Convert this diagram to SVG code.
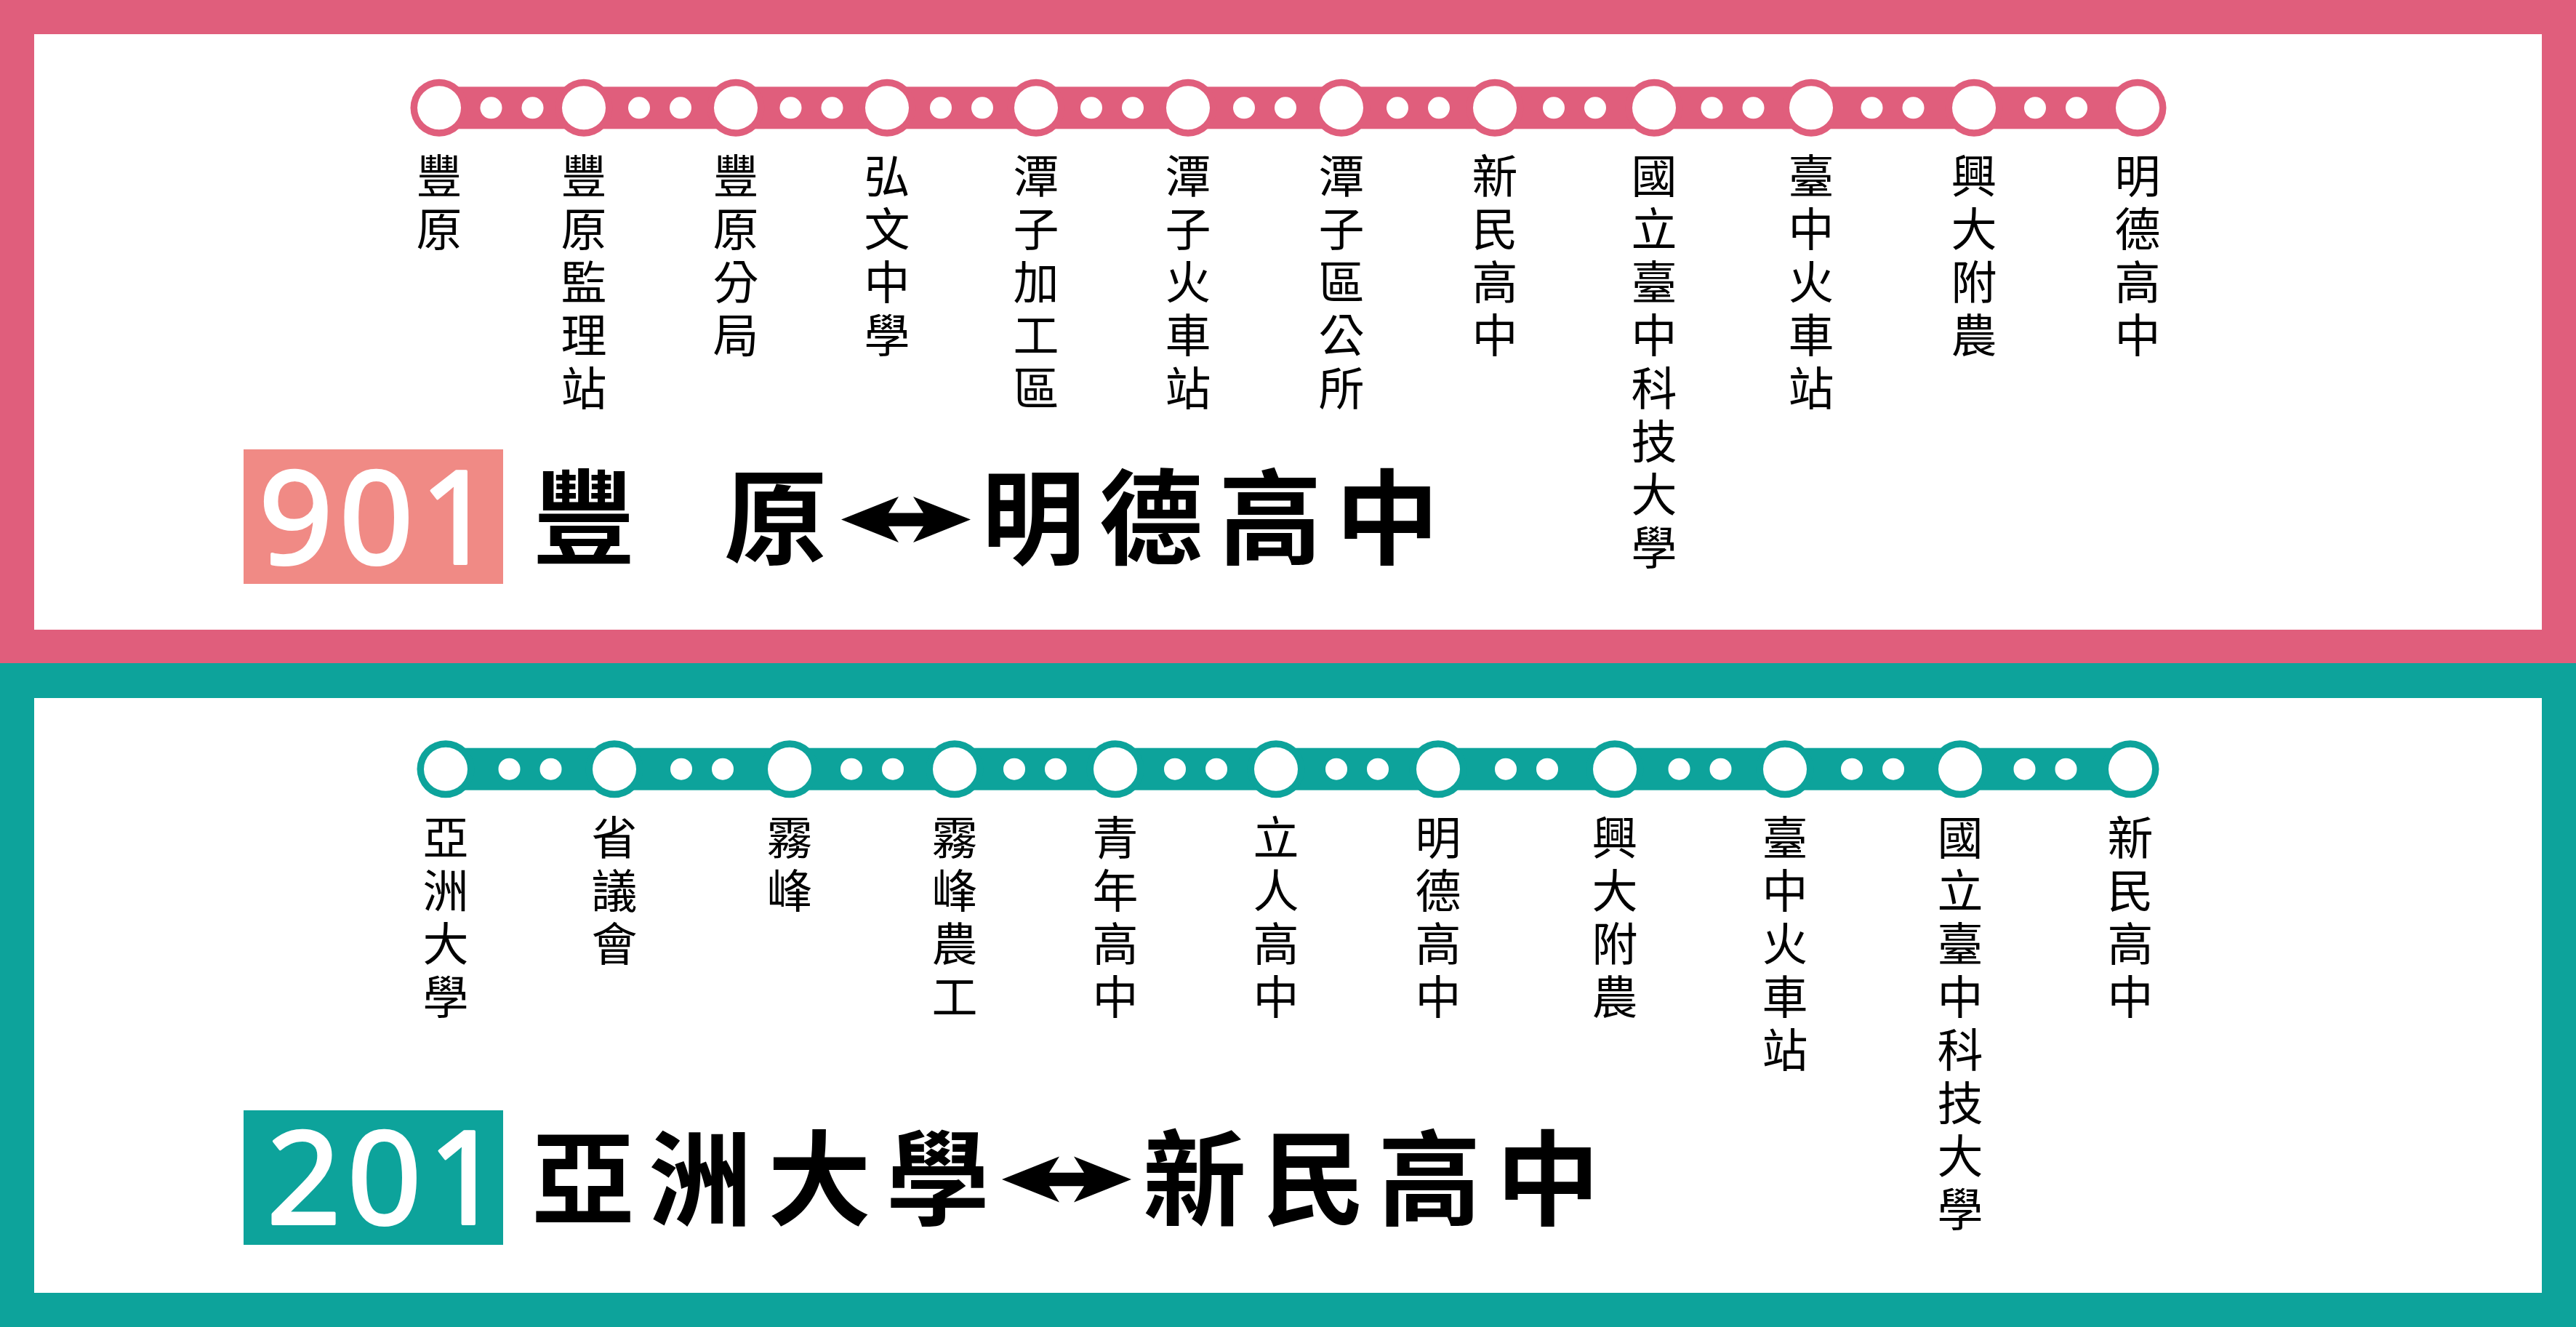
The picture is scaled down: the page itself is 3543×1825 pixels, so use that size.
<svg xmlns="http://www.w3.org/2000/svg" width="3543" height="1825" viewBox="0 0 3543 1825">
<defs>
<style>
.pinkc{fill:#E05E7C}
.tealc{fill:#0DA39B}
.white{fill:#FFFFFF}
.lbl{font-family:"Noto Sans CJK TC","Noto Sans CJK SC",sans-serif;font-size:63px;font-weight:400;fill:#000;text-anchor:middle}
.ttl{font-family:"Noto Sans CJK TC","Noto Sans CJK SC",sans-serif;font-size:142px;font-weight:700;fill:#000;text-anchor:middle}
.num{font-family:"Noto Sans","Open Sans",sans-serif;font-size:178px;font-weight:400;fill:#FFFFFF;stroke:#FFFFFF;stroke-width:4;stroke-linejoin:round;letter-spacing:9px}
</style>
<path id="arrow" d="M-89,0 L-10,-31.5 L-24,-9.2 L24,-9.2 L10,-31.5 L89,0 L10,31.5 L24,9.2 L-24,9.2 L-10,31.5 Z" fill="#000"/>
</defs>

<!-- backgrounds -->
<g id="panel-901">
<rect x="0" y="0" width="3543" height="913" class="pinkc"/>
<rect x="47" y="47" width="3449" height="819" class="white"/>
</g>
<g id="panel-201">
<rect x="0" y="912" width="3543" height="913" class="tealc"/>
<rect x="47" y="960" width="3449" height="818" class="white"/>
</g>

<!-- connectors -->
<g id="connectors">
<rect x="604" y="119.3" width="2336" height="58" class="pinkc"/>
<rect x="613" y="1028.7" width="2317" height="58" class="tealc"/>
<g class="white">
<circle cx="675.5" cy="148.3" r="15"/><circle cx="732.5" cy="148.3" r="15"/>
<circle cx="879" cy="148.3" r="15"/><circle cx="936" cy="148.3" r="15"/>
<circle cx="1087.5" cy="148.3" r="15"/><circle cx="1144.5" cy="148.3" r="15"/>
<circle cx="1294" cy="148.3" r="15"/><circle cx="1351" cy="148.3" r="15"/>
<circle cx="1501" cy="148.3" r="15"/><circle cx="1558" cy="148.3" r="15"/>
<circle cx="1711" cy="148.3" r="15"/><circle cx="1768" cy="148.3" r="15"/>
<circle cx="1922" cy="148.3" r="15"/><circle cx="1979" cy="148.3" r="15"/>
<circle cx="2137" cy="148.3" r="15"/><circle cx="2194" cy="148.3" r="15"/>
<circle cx="2354.5" cy="148.3" r="15"/><circle cx="2411.5" cy="148.3" r="15"/>
<circle cx="2574.5" cy="148.3" r="15"/><circle cx="2631.5" cy="148.3" r="15"/>
<circle cx="2799" cy="148.3" r="15"/><circle cx="2856" cy="148.3" r="15"/>

<circle cx="700.5" cy="1057.7" r="15"/><circle cx="757.5" cy="1057.7" r="15"/>
<circle cx="937" cy="1057.7" r="15"/><circle cx="994" cy="1057.7" r="15"/>
<circle cx="1171" cy="1057.7" r="15"/><circle cx="1228" cy="1057.7" r="15"/>
<circle cx="1395" cy="1057.7" r="15"/><circle cx="1452" cy="1057.7" r="15"/>
<circle cx="1616" cy="1057.7" r="15"/><circle cx="1673" cy="1057.7" r="15"/>
<circle cx="1838" cy="1057.7" r="15"/><circle cx="1895" cy="1057.7" r="15"/>
<circle cx="2071" cy="1057.7" r="15"/><circle cx="2128" cy="1057.7" r="15"/>
<circle cx="2309.5" cy="1057.7" r="15"/><circle cx="2366.5" cy="1057.7" r="15"/>
<circle cx="2547" cy="1057.7" r="15"/><circle cx="2604" cy="1057.7" r="15"/>
<circle cx="2784.5" cy="1057.7" r="15"/><circle cx="2841.5" cy="1057.7" r="15"/>
</g>
</g>

<!-- route 901 stations -->
<g id="s901-01"><circle cx="604" cy="148.3" r="39.5" class="pinkc"/><circle cx="604" cy="148.3" r="30" class="white"/>
<text class="lbl"><tspan x="604" y="265">豐</tspan><tspan x="604" y="338">原</tspan></text></g>
<g id="s901-02"><circle cx="803" cy="148.3" r="39.5" class="pinkc"/><circle cx="803" cy="148.3" r="30" class="white"/>
<text class="lbl"><tspan x="803" y="265">豐</tspan><tspan x="803" y="338">原</tspan><tspan x="803" y="411">監</tspan><tspan x="803" y="484">理</tspan><tspan x="803" y="557">站</tspan></text></g>
<g id="s901-03"><circle cx="1012" cy="148.3" r="39.5" class="pinkc"/><circle cx="1012" cy="148.3" r="30" class="white"/>
<text class="lbl"><tspan x="1012" y="265">豐</tspan><tspan x="1012" y="338">原</tspan><tspan x="1012" y="411">分</tspan><tspan x="1012" y="484">局</tspan></text></g>
<g id="s901-04"><circle cx="1220" cy="148.3" r="39.5" class="pinkc"/><circle cx="1220" cy="148.3" r="30" class="white"/>
<text class="lbl"><tspan x="1220" y="265">弘</tspan><tspan x="1220" y="338">文</tspan><tspan x="1220" y="411">中</tspan><tspan x="1220" y="484">學</tspan></text></g>
<g id="s901-05"><circle cx="1425" cy="148.3" r="39.5" class="pinkc"/><circle cx="1425" cy="148.3" r="30" class="white"/>
<text class="lbl"><tspan x="1425" y="265">潭</tspan><tspan x="1425" y="338">子</tspan><tspan x="1425" y="411">加</tspan><tspan x="1425" y="484">工</tspan><tspan x="1425" y="557">區</tspan></text></g>
<g id="s901-06"><circle cx="1634" cy="148.3" r="39.5" class="pinkc"/><circle cx="1634" cy="148.3" r="30" class="white"/>
<text class="lbl"><tspan x="1634" y="265">潭</tspan><tspan x="1634" y="338">子</tspan><tspan x="1634" y="411">火</tspan><tspan x="1634" y="484">車</tspan><tspan x="1634" y="557">站</tspan></text></g>
<g id="s901-07"><circle cx="1845" cy="148.3" r="39.5" class="pinkc"/><circle cx="1845" cy="148.3" r="30" class="white"/>
<text class="lbl"><tspan x="1845" y="265">潭</tspan><tspan x="1845" y="338">子</tspan><tspan x="1845" y="411">區</tspan><tspan x="1845" y="484">公</tspan><tspan x="1845" y="557">所</tspan></text></g>
<g id="s901-08"><circle cx="2056" cy="148.3" r="39.5" class="pinkc"/><circle cx="2056" cy="148.3" r="30" class="white"/>
<text class="lbl"><tspan x="2056" y="265">新</tspan><tspan x="2056" y="338">民</tspan><tspan x="2056" y="411">高</tspan><tspan x="2056" y="484">中</tspan></text></g>
<g id="s901-09"><circle cx="2275" cy="148.3" r="39.5" class="pinkc"/><circle cx="2275" cy="148.3" r="30" class="white"/>
<text class="lbl"><tspan x="2275" y="265">國</tspan><tspan x="2275" y="338">立</tspan><tspan x="2275" y="411">臺</tspan><tspan x="2275" y="484">中</tspan><tspan x="2275" y="557">科</tspan><tspan x="2275" y="630">技</tspan><tspan x="2275" y="703">大</tspan><tspan x="2275" y="776">學</tspan></text></g>
<g id="s901-10"><circle cx="2491" cy="148.3" r="39.5" class="pinkc"/><circle cx="2491" cy="148.3" r="30" class="white"/>
<text class="lbl"><tspan x="2491" y="265">臺</tspan><tspan x="2491" y="338">中</tspan><tspan x="2491" y="411">火</tspan><tspan x="2491" y="484">車</tspan><tspan x="2491" y="557">站</tspan></text></g>
<g id="s901-11"><circle cx="2715" cy="148.3" r="39.5" class="pinkc"/><circle cx="2715" cy="148.3" r="30" class="white"/>
<text class="lbl"><tspan x="2715" y="265">興</tspan><tspan x="2715" y="338">大</tspan><tspan x="2715" y="411">附</tspan><tspan x="2715" y="484">農</tspan></text></g>
<g id="s901-12"><circle cx="2940" cy="148.3" r="39.5" class="pinkc"/><circle cx="2940" cy="148.3" r="30" class="white"/>
<text class="lbl"><tspan x="2940" y="265">明</tspan><tspan x="2940" y="338">德</tspan><tspan x="2940" y="411">高</tspan><tspan x="2940" y="484">中</tspan></text></g>

<g id="title-901">
<rect x="335" y="618" width="357" height="185" fill="#F08A85"/>
<text class="num" x="356" y="775">901</text>
<text class="ttl"><tspan x="803" y="765">豐</tspan><tspan x="1067" y="765">原</tspan><tspan x="1421" y="765">明</tspan><tspan x="1583" y="765">德</tspan><tspan x="1747" y="765">高</tspan><tspan x="1908" y="765">中</tspan></text>
<use href="#arrow" x="1246" y="714.6"/>
</g>

<!-- route 201 stations -->
<g id="s201-01"><circle cx="613" cy="1057.7" r="39.5" class="tealc"/><circle cx="613" cy="1057.7" r="30" class="white"/>
<text class="lbl"><tspan x="613" y="1175">亞</tspan><tspan x="613" y="1248">洲</tspan><tspan x="613" y="1321">大</tspan><tspan x="613" y="1394">學</tspan></text></g>
<g id="s201-02"><circle cx="845" cy="1057.7" r="39.5" class="tealc"/><circle cx="845" cy="1057.7" r="30" class="white"/>
<text class="lbl"><tspan x="845" y="1175">省</tspan><tspan x="845" y="1248">議</tspan><tspan x="845" y="1321">會</tspan></text></g>
<g id="s201-03"><circle cx="1086" cy="1057.7" r="39.5" class="tealc"/><circle cx="1086" cy="1057.7" r="30" class="white"/>
<text class="lbl"><tspan x="1086" y="1175">霧</tspan><tspan x="1086" y="1248">峰</tspan></text></g>
<g id="s201-04"><circle cx="1313" cy="1057.7" r="39.5" class="tealc"/><circle cx="1313" cy="1057.7" r="30" class="white"/>
<text class="lbl"><tspan x="1313" y="1175">霧</tspan><tspan x="1313" y="1248">峰</tspan><tspan x="1313" y="1321">農</tspan><tspan x="1313" y="1394">工</tspan></text></g>
<g id="s201-05"><circle cx="1534" cy="1057.7" r="39.5" class="tealc"/><circle cx="1534" cy="1057.7" r="30" class="white"/>
<text class="lbl"><tspan x="1534" y="1175">青</tspan><tspan x="1534" y="1248">年</tspan><tspan x="1534" y="1321">高</tspan><tspan x="1534" y="1394">中</tspan></text></g>
<g id="s201-06"><circle cx="1755" cy="1057.7" r="39.5" class="tealc"/><circle cx="1755" cy="1057.7" r="30" class="white"/>
<text class="lbl"><tspan x="1755" y="1175">立</tspan><tspan x="1755" y="1248">人</tspan><tspan x="1755" y="1321">高</tspan><tspan x="1755" y="1394">中</tspan></text></g>
<g id="s201-07"><circle cx="1978" cy="1057.7" r="39.5" class="tealc"/><circle cx="1978" cy="1057.7" r="30" class="white"/>
<text class="lbl"><tspan x="1978" y="1175">明</tspan><tspan x="1978" y="1248">德</tspan><tspan x="1978" y="1321">高</tspan><tspan x="1978" y="1394">中</tspan></text></g>
<g id="s201-08"><circle cx="2221" cy="1057.7" r="39.5" class="tealc"/><circle cx="2221" cy="1057.7" r="30" class="white"/>
<text class="lbl"><tspan x="2221" y="1175">興</tspan><tspan x="2221" y="1248">大</tspan><tspan x="2221" y="1321">附</tspan><tspan x="2221" y="1394">農</tspan></text></g>
<g id="s201-09"><circle cx="2455" cy="1057.7" r="39.5" class="tealc"/><circle cx="2455" cy="1057.7" r="30" class="white"/>
<text class="lbl"><tspan x="2455" y="1175">臺</tspan><tspan x="2455" y="1248">中</tspan><tspan x="2455" y="1321">火</tspan><tspan x="2455" y="1394">車</tspan><tspan x="2455" y="1467">站</tspan></text></g>
<g id="s201-10"><circle cx="2696" cy="1057.7" r="39.5" class="tealc"/><circle cx="2696" cy="1057.7" r="30" class="white"/>
<text class="lbl"><tspan x="2696" y="1175">國</tspan><tspan x="2696" y="1248">立</tspan><tspan x="2696" y="1321">臺</tspan><tspan x="2696" y="1394">中</tspan><tspan x="2696" y="1467">科</tspan><tspan x="2696" y="1540">技</tspan><tspan x="2696" y="1613">大</tspan><tspan x="2696" y="1686">學</tspan></text></g>
<g id="s201-11"><circle cx="2930" cy="1057.7" r="39.5" class="tealc"/><circle cx="2930" cy="1057.7" r="30" class="white"/>
<text class="lbl"><tspan x="2930" y="1175">新</tspan><tspan x="2930" y="1248">民</tspan><tspan x="2930" y="1321">高</tspan><tspan x="2930" y="1394">中</tspan></text></g>

<g id="title-201">
<rect x="335" y="1527" width="357" height="185" class="tealc"/>
<text class="num" x="367" y="1683">201</text>
<text class="ttl"><tspan x="802" y="1674">亞</tspan><tspan x="963" y="1674">洲</tspan><tspan x="1127" y="1674">大</tspan><tspan x="1290" y="1674">學</tspan><tspan x="1643" y="1674">新</tspan><tspan x="1807" y="1674">民</tspan><tspan x="1966" y="1674">高</tspan><tspan x="2129" y="1674">中</tspan></text>
<use href="#arrow" x="1467" y="1622"/>
</g>
</svg>
